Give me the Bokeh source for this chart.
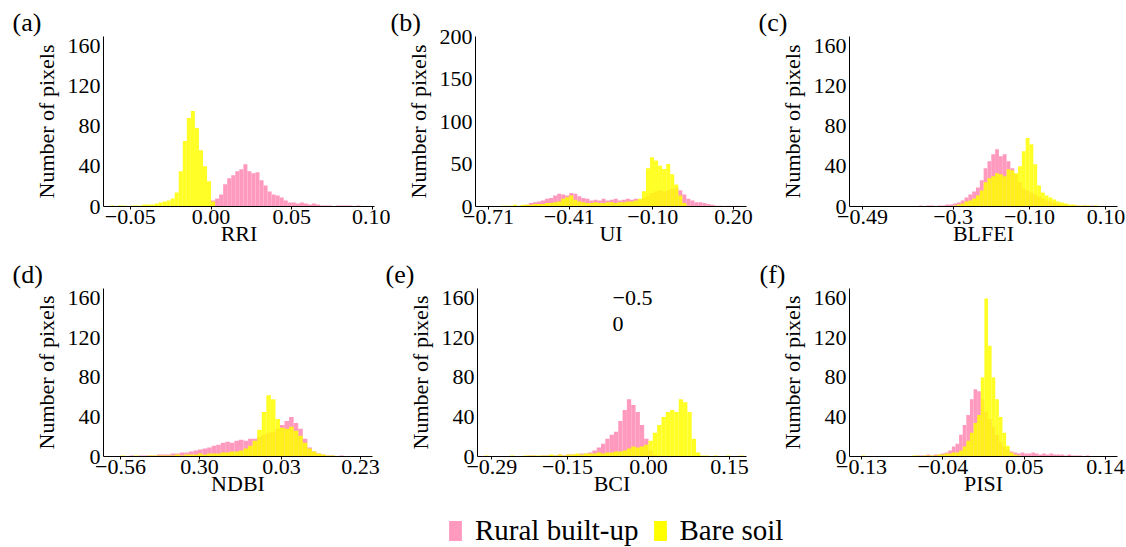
from bokeh.plotting import figure
from bokeh.layouts import row, column
from bokeh.models import FixedTicker, CustomJSTickFormatter, Label, Range1d, Legend, LegendItem
from bokeh.embed import file_html
from bokeh.resources import INLINE

FONT = "Liberation Serif"
PINK = "#FF99BE"
YELLOW = "#FFFF00"

# ---------------- data (histogram counts) ----------------
a_bin = 0.0025
a_rural_start = 0.0
a_rural = [6, 8, 12, 22, 28, 31, 35, 37, 42, 35, 33, 34, 26, 21, 15, 12, 11, 9, 6, 4, 4, 3, 4, 3, 2, 3, 2,
           1, 1, 1, 0, 1, 1, 1, 1, 0, 1]
a_bare_start = -0.065
a_bare = [0, 1, 0, 1, 1, 0, 1, 1, 1, 2, 2, 2, 3, 4, 5, 6, 8, 14, 35, 65, 88, 95, 78, 56, 40, 25, 5]

b_bin = 0.015
b_rural_start = -0.59
b_rural = [1, 2, 4, 5, 6, 7, 9, 10, 13, 15, 14, 13, 16, 15, 12, 10, 9, 7, 8, 7, 9, 7, 8, 9, 7, 8, 9, 8, 9, 8,
           10, 13, 16, 18, 19, 18, 19, 21, 22, 19, 14, 9, 7, 5, 5, 4, 3, 2, 1, 1, 0, 1, 0, 1]
b_bare_start = -0.665
b_bare = [1, 1, 1, 2, 1, 2, 2, 2, 3, 3, 3, 4, 4, 5, 6, 9, 11, 13, 8, 6, 5, 4, 4, 5, 4, 4, 5, 5, 4, 5, 5, 6, 6,
          7, 9, 18, 45, 58, 54, 48, 44, 50, 38, 26, 13, 4, 1]

c_bin = 0.01
c_rural_start = -0.40
c_rural = [0, 1, 0, 1, 1, 0, 1, 1, 2, 2, 3, 4, 6, 9, 12, 15, 19, 26, 38, 45, 52, 57, 50, 52, 45, 38, 32, 24,
           18, 16, 14, 12, 10, 8, 6, 5, 4, 3, 2, 2, 1, 1, 1, 0, 1, 0, 1]
c_bare_start = -0.30
c_bare = [1, 2, 3, 5, 6, 8, 11, 16, 24, 28, 30, 33, 32, 30, 37, 36, 33, 40, 55, 68, 62, 42, 21, 14, 11, 9, 7,
          5, 4, 3, 2, 2, 1, 1, 1, 1, 0, 1]

d_bin = 0.015
d_rural_start = -0.56
d_rural = [0, 0, 1, 0, 1, 1, 1, 1, 2, 2, 2, 3, 3, 4, 4, 5, 6, 7, 8, 9, 11, 12, 14, 15, 14, 16, 17, 16, 18, 18,
           20, 22, 24, 25, 28, 32, 36, 40, 34, 28, 18, 9, 5, 3, 2, 1, 1, 0, 1]
d_bare_start = -0.56
d_bare = [1, 0, 0, 1, 0, 0, 1, 1, 1, 1, 1, 1, 2, 1, 2, 2, 2, 3, 2, 3, 3, 3, 4, 4, 5, 5, 6, 8, 11, 16, 27, 45,
          62, 58, 38, 29, 28, 30, 26, 21, 14, 8, 5, 3, 2, 1, 1]

e_bin = 0.008
e_rural_start = -0.32
e_rural = [0, 0, 0, 0, 0, 0, 0, 0, 0, 0, 0, 0, 1, 1, 0, 1, 1, 1, 1, 2, 1, 2, 2, 2, 3, 3, 4, 6, 9, 13, 18, 22,
           25, 36, 47, 58, 52, 45, 32, 18, 6, 2, 1]
e_bare_start = -0.32
e_bare = [0, 0, 1, 0, 0, 0, 0, 0, 1, 0, 0, 1, 1, 1, 1, 1, 1, 2, 1, 2, 1, 2, 2, 3, 2, 3, 3, 3, 4, 3, 4, 4, 5, 5,
          6, 8, 10, 9, 10, 12, 16, 24, 32, 40, 45, 47, 45, 58, 55, 45, 18, 4, 1, 1, 0, 1, 0, 0, 1, 0, 0, 1]
e_note_texts = ["\u22120.5", "0"]

f_bin = 0.004
f_rural_start = -0.07
f_rural = [1, 1, 1, 2, 1, 2, 2, 3, 4, 6, 10, 13, 22, 32, 42, 58, 68, 66, 58, 45, 38, 30, 22, 15, 10, 7, 5, 4,
           3, 4, 3, 3, 4, 3, 2, 3, 2, 3, 2, 2, 2, 1, 2, 1, 1, 1, 0, 1]
f_bare_start = -0.13
f_bare = [1, 0, 0, 0, 0, 0, 0, 0, 0, 0, 0, 0, 0, 0, 1,
          1, 0, 1, 1, 1, 1, 2, 2, 3, 3, 4, 4, 6, 10, 16, 24, 34, 42, 80, 160, 112, 80, 58, 40, 24, 11, 4, 2, 1]

a_ticks, a_labels = [-0.05, 0.0, 0.05, 0.10], ["\u22120.05", "0.00", "0.05", "0.10"]
b_ticks, b_labels = [-0.71, -0.41, -0.10, 0.20], ["\u22120.71", "\u22120.41", "\u22120.10", "0.20"]
c_ticks, c_labels = [-0.537, -0.3, -0.1, 0.1], ["\u22120.49", "\u22120.3", "\u22120.10", "0.10"]
d_ticks, d_labels = [-0.56, -0.30, -0.03, 0.23], ["\u22120.56", "0.30", "0.03", "0.23"]
e_ticks, e_labels = [-0.29, -0.15, 0.0, 0.15], ["\u22120.29", "\u22120.15", "0.00", "0.15"]
f_ticks, f_labels = [-0.13, -0.04, 0.05, 0.14], ["\u22120.13", "\u22120.04", "0.05", "0.14"]
y_ticks_160 = [0, 40, 80, 120, 160]
y_ticks_200 = [0, 50, 100, 150, 200]

series_names = ["Rural built-up", "Bare soil"]


def edges(start, binw, counts):
    left = [start + i * binw for i in range(len(counts))]
    right = [x + binw for x in left]
    return left, right


def panel(tag, xlabel, xr, yr, xticks, xlabels, yticks, rs, rural, bs, bare, binw,
          w, h, bl, br, bt, bb, tag_off):
    p = figure(width=w, height=h, output_backend="svg", toolbar_location=None,
               x_range=Range1d(*xr), y_range=Range1d(*yr),
               min_border_left=bl, min_border_right=br, min_border_top=bt, min_border_bottom=bb)
    p.outline_line_color = None
    p.xgrid.visible = False
    p.ygrid.visible = False
    l, r = edges(rs, binw, rural)
    p.quad(left=l, right=r, bottom=0, top=rural, fill_color=PINK, line_color=None)
    l, r = edges(bs, binw, bare)
    p.quad(left=l, right=r, bottom=0, top=bare, fill_color=YELLOW, fill_alpha=0.85, line_color=None)

    p.xaxis.ticker = FixedTicker(ticks=xticks)
    p.xaxis.formatter = CustomJSTickFormatter(
        args=dict(tv=xticks, labels=xlabels),
        code="let b=0; for (let i=0;i<tv.length;i++){ if (Math.abs(tv[i]-tick) < Math.abs(tv[b]-tick)) b=i; } return labels[b];")
    p.yaxis.ticker = FixedTicker(ticks=yticks)
    p.xaxis.axis_label = xlabel
    p.yaxis.axis_label = "Number of pixels"
    for ax in (p.xaxis[0], p.yaxis[0]):
        ax.axis_line_color = "black"
        ax.axis_line_width = 1
        ax.major_label_text_font = FONT
        ax.major_label_text_font_size = "22px"
        ax.major_label_text_color = "black"
        ax.axis_label_text_font = FONT
        ax.axis_label_text_font_size = "22px"
        ax.axis_label_text_font_style = "normal"
        ax.axis_label_text_color = "black"
        ax.minor_tick_line_color = None
        ax.major_tick_in = 0
    p.xaxis.major_tick_out = 3
    p.xaxis.major_tick_line_color = "black"
    p.yaxis.major_tick_out = 0
    p.yaxis.major_tick_line_color = None
    p.xaxis.major_label_standoff = 0
    p.xaxis.axis_label_standoff = -6
    p.yaxis.major_label_standoff = 3
    p.yaxis.axis_label_standoff = 6

    p.title.text = tag
    p.title.align = "left"
    p.title.offset = tag_off
    p.title.standoff = 0
    p.title.text_font = FONT
    p.title.text_font_size = "26px"
    p.title.text_font_style = "normal"
    p.title.text_color = "black"
    return p


pa = panel("(a)", "RRI", (-0.0666, 0.1012), (0, 169), a_ticks, a_labels, y_ticks_160,
           a_rural_start, a_rural, a_bare_start, a_bare, a_bin, 390, 252, 103, 16, 36, 46, -91)
pb = panel("(b)", "UI", (-0.7583, 0.2484), (0, 200), b_ticks, b_labels, y_ticks_200,
           b_rural_start, b_rural, b_bare_start, b_bare, b_bin, 367, 252, 85, 11, 36, 46, -85)
pc = panel("(c)", "BLFEI", (-0.5712, 0.1304), (0, 169), c_ticks, c_labels, y_ticks_160,
           c_rural_start, c_rural, c_bare_start, c_bare, c_bin, 369, 252, 92, 9, 36, 46, -91)
pd = panel("(d)", "NDBI", (-0.616, 0.2695), (0, 170), d_ticks, d_labels, y_ticks_160,
           d_rural_start, d_rural, d_bare_start, d_bare, d_bin, 385, 250, 103, 13, 36, 46, -91)
pe = panel("(e)", "BCI", (-0.3167, 0.1815), (0, 170), e_ticks, e_labels, y_ticks_160,
           e_rural_start, e_rural, e_bare_start, e_bare, e_bin, 372, 250, 92, 11, 36, 46, -92)
pf = panel("(f)", "PISI", (-0.1433, 0.1533), (0, 170), f_ticks, f_labels, y_ticks_160,
           f_rural_start, f_rural, f_bare_start, f_bare, f_bin, 369, 250, 92, 9, 36, 46, -90)

pe.add_layout(Label(x=-0.0667, y=160, text=e_note_texts[0], text_font=FONT, text_font_size="22px",
                    text_baseline="alphabetic", text_align="left", text_color="black"))
pe.add_layout(Label(x=-0.0667, y=134, text=e_note_texts[1], text_font=FONT, text_font_size="22px",
                    text_baseline="alphabetic", text_align="left", text_color="black"))

lg = figure(width=1126, height=45, output_backend="svg", toolbar_location=None, min_border=0,
            x_range=Range1d(0, 1), y_range=Range1d(0, 1))
lg.axis.visible = False
lg.xgrid.visible = False
lg.ygrid.visible = False
lg.outline_line_color = None
r1 = lg.vbar(x=[5], top=[1], width=1, fill_color=PINK, line_color=None)
r2 = lg.vbar(x=[5], top=[1], width=1, fill_color=YELLOW, line_color=None)
leg = Legend(items=[LegendItem(label=series_names[0], renderers=[r1]),
                    LegendItem(label=series_names[1], renderers=[r2])],
             orientation="horizontal", location=(447, 0), glyph_width=16, glyph_height=25,
             label_standoff=12, spacing=13, padding=0, margin=0, border_line_color=None,
             background_fill_alpha=0, label_text_font=FONT, label_text_font_size="29px",
             label_text_color="black")
lg.add_layout(leg)

layout = column(row(pa, pb, pc), row(pd, pe, pf), lg)
open("out.html", "w").write(file_html(layout, INLINE))
